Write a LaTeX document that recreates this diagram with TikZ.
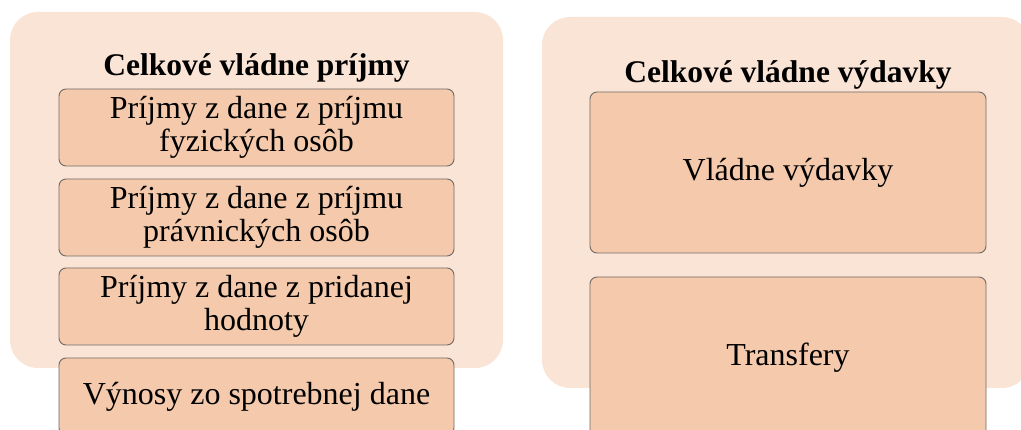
\documentclass[tikz,border=0pt]{standalone}
\usepackage{fontspec}
\setmainfont{Liberation Serif}
\definecolor{outerfill}{HTML}{FAE4D6}
\definecolor{innerfill}{HTML}{F5C9AB}
\definecolor{innerline}{HTML}{6F6A66}
\tikzset{
  outerbox/.style={draw=none, fill=outerfill, rounded corners=28pt, inner sep=0pt},
  itembox/.style={draw=innerline, line width=0.9pt, fill=innerfill, rounded corners=7pt, inner sep=0pt, align=center, font=\fontsize{32}{33}\selectfont},
  titletext/.style={font=\fontsize{31.5}{33}\selectfont\bfseries, inner sep=0pt, anchor=base}
}
\begin{document}
\begin{tikzpicture}[x=1pt,y=-1pt]
\useasboundingbox (0,0) rectangle (1021,430);
\clip (0,0) rectangle (1021,430);
% left group
\node[outerbox, minimum width=493pt, minimum height=356pt] (lout) at (256.5,190) {};
\node[titletext] (ltitle) at (256.5,76) {Celkové vládne príjmy};
\node[itembox, minimum width=395pt, minimum height=77pt] (l1) at (256.5,127.5) {Príjmy z dane z príjmu\\fyzických osôb};
\node[itembox, minimum width=395pt, minimum height=77pt] (l2) at (256.5,217.5) {Príjmy z dane z príjmu\\právnických osôb};
\node[itembox, minimum width=395pt, minimum height=77pt] (l3) at (256.5,306.5) {Príjmy z dane z pridanej\\hodnoty};
\node[itembox, minimum width=395pt, minimum height=77pt] (l4) at (256.5,396.5) {Výnosy zo spotrebnej dane};
% right group
\node[outerbox, minimum width=488pt, minimum height=371pt] (rout) at (786,202.5) {};
\node[titletext] (rtitle) at (788,83) {Celkové vládne výdavky};
\node[itembox, minimum width=396pt, minimum height=161pt] (r1) at (788,172.5) {Vládne výdavky};
\node[itembox, minimum width=396pt, minimum height=161pt] (r2) at (788,357.5) {Transfery};
\end{tikzpicture}
\end{document}
